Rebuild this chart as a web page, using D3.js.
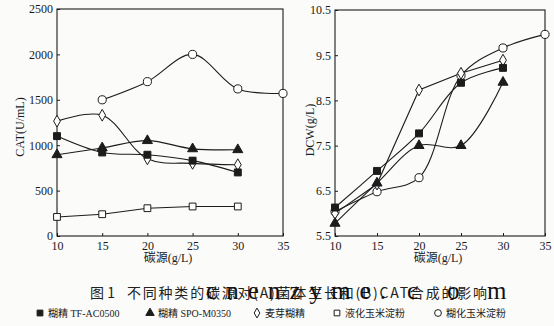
<!DOCTYPE html>
<html>
<head>
<meta charset="utf-8">
<script src="https://cdn.jsdelivr.net/npm/d3@7"></script>
<style>
  html, body { margin: 0; padding: 0; background: #fbfbfa; }
  svg { display: block; }
  .tick text { font-family: "Liberation Serif", "Times New Roman", serif; font-size: 12px; fill: #1a1a1a; }
</style>
</head>
<body>
<svg id="chart" width="554" height="326"></svg>
<script>
// Carbon source concentration (g/L)
const carbonLevels = [10, 15, 20, 25, 30, 35];

// (B) CAT activity, U/mL
const catTF   = [1100, 920, 895, 830, 700];
const catSPO  = [895, 970, 1050, 960, 950];
const catMalt = [1265, 1330, 850, 800, 785];
const catLiq  = [210, 240, 306, 325, 325];
const catGel  = [null, 1500, 1700, 2000, 1620, 1570];

// (A) Dry cell weight, g/L
const dcwTF   = [6.13, 6.94, 7.77, 8.89, 9.22];
const dcwSPO  = [5.78, 6.67, 7.50, 7.50, 8.90];
const dcwMalt = [6.00, 6.65, 8.73, 9.10, 9.39];
const dcwGel  = [6.04, 6.48, 6.79, 9.05, 9.66, 9.96];

const xTicks   = [10, 15, 20, 25, 30, 35];
const catTicks = [0, 500, 1000, 1500, 2000, 2500];
const dcwTicks = [5.5, 6.5, 7.5, 8.5, 9.5, 10.5];

const legendNames = ["糊精 TF-AC0500", "糊精 SPO-M0350", "麦芽糊精", "液化玉米淀粉", "糊化玉米淀粉"];

const ink = "#1c1c1c";
const svg = d3.select("#chart");

const markerDefs = {
  tf:   { type: d3.symbolSquare,   fill: ink,   size: 48 },
  spo:  { type: d3.symbolTriangle, fill: ink,   size: 44 },
  malt: { type: d3.symbolDiamond,  fill: "#fff", size: 40 },
  liq:  { type: d3.symbolSquare,   fill: "#fff", size: 46 },
  gel:  { type: d3.symbolCircle,   fill: "#fff", size: 52 }
};

function toPoints(values) {
  return values.map((v, i) => ({ x: carbonLevels[i], y: v })).filter(d => d.y != null);
}

function drawPanel(cfg) {
  const x = d3.scaleLinear().domain([10, 35]).range([cfg.left, cfg.right]);
  const y = d3.scaleLinear().domain(cfg.yDomain).range([cfg.bottom, cfg.top]);
  const g = svg.append("g");

  const xAxis = g.append("g")
    .attr("transform", `translate(0,${cfg.bottom})`)
    .call(d3.axisBottom(x).tickValues(xTicks).tickSize(-3).tickPadding(5).tickFormat(d3.format("d")));
  const yAxis = g.append("g")
    .attr("transform", `translate(${cfg.left},0)`)
    .call(d3.axisLeft(y).tickValues(cfg.yTicks).tickSize(-3).tickPadding(4).tickFormat(cfg.fmt));
  [xAxis, yAxis].forEach(a => {
    a.select(".domain").remove();
    a.selectAll(".tick line").attr("stroke", ink);
  });

  // plot frame
  g.append("rect")
    .attr("x", cfg.left).attr("y", cfg.top)
    .attr("width", cfg.right - cfg.left).attr("height", cfg.bottom - cfg.top)
    .attr("fill", "none").attr("stroke", ink).attr("stroke-width", 1.1);

  cfg.series.forEach(s => {
    const pts = toPoints(s.values);
    const line = d3.line().x(d => x(d.x)).y(d => y(d.y)).curve(s.curve || d3.curveCatmullRom.alpha(0.5));
    g.append("path").datum(pts)
      .attr("d", line).attr("fill", "none").attr("stroke", ink).attr("stroke-width", 1.1);
  });
  cfg.series.forEach(s => {
    const m = markerDefs[s.key];
    g.selectAll(null).data(toPoints(s.values)).enter().append("path")
      .attr("transform", d => `translate(${x(d.x)},${y(d.y)})`)
      .attr("d", d3.symbol().type(m.type).size(m.size))
      .attr("fill", m.fill).attr("stroke", ink).attr("stroke-width", 1);
  });

  // axis titles
  g.append("text")
    .attr("x", (cfg.left + cfg.right) / 2 - 2).attr("y", 262)
    .attr("text-anchor", "middle")
    .style("font-family", "'Liberation Serif', 'Noto Sans CJK SC', serif").style("font-size", "12px").attr("fill", ink)
    .text("碳源(g/L)");
  g.append("text")
    .attr("transform", `translate(${cfg.titleX},${cfg.titleY}) rotate(-90)`)
    .attr("text-anchor", "middle")
    .style("font-family", "'Liberation Serif', serif").style("font-size", "12px").attr("fill", ink)
    .text(cfg.yTitle);
}

drawPanel({
  left: 57, right: 283, top: 9, bottom: 236,
  yDomain: [0, 2500], yTicks: catTicks, fmt: d3.format("d"),
  yTitle: "CAT(U/mL)", titleX: 24, titleY: 127,
  series: [
    { key: "gel",  values: catGel },
    { key: "malt", values: catMalt },
    { key: "spo",  values: catSPO },
    { key: "tf",   values: catTF },
    { key: "liq",  values: catLiq, curve: d3.curveLinear }
  ]
});

drawPanel({
  left: 335, right: 545, top: 10, bottom: 236,
  yDomain: [5.5, 10.5], yTicks: dcwTicks, fmt: d3.format(".1f"),
  yTitle: "DCW(g/L)", titleX: 314, titleY: 130,
  series: [
    { key: "gel",  values: dcwGel },
    { key: "malt", values: dcwMalt, curve: d3.curveLinear },
    { key: "spo",  values: dcwSPO },
    { key: "tf",   values: dcwTF }
  ]
});

// Figure caption
const capStyle = sel => sel
  .style("font-family", "'Noto Sans CJK SC', sans-serif").style("font-size", "14px").attr("fill", "#222");
svg.append("text").attr("x", 90).attr("y", 298).call(capStyle).text("图 1");
svg.append("text").attr("x", 127).attr("y", 298).call(capStyle)
  .attr("textLength", 360).attr("lengthAdjust", "spacing")
  .text("不同种类的碳源对(A)菌体生长和(B)CAT合成的影响");

// site mark printed across the caption
svg.append("text")
  .attr("x", 206).attr("y", 299)
  .style("font-family", "'Liberation Serif', serif").style("font-size", "25px")
  .attr("textLength", 180).attr("lengthAdjust", "spacing").attr("fill", "#111")
  .text("cnenzyme.");
svg.append("text")
  .attr("x", "407 447 487").attr("y", 299)
  .style("font-family", "'Liberation Serif', serif").style("font-size", "25px")
  .attr("fill", "#111")
  .text("com");

// Legend
const legendKeys = ["tf", "spo", "malt", "liq", "gel"];
const legendX = [40, 150, 257, 337, 438];
legendKeys.forEach((k, i) => {
  const m = markerDefs[k];
  svg.append("path")
    .attr("transform", `translate(${legendX[i]},${313})`)
    .attr("d", d3.symbol().type(m.type).size(m.size * 0.7))
    .attr("fill", m.fill).attr("stroke", ink).attr("stroke-width", 1);
  svg.append("text")
    .attr("x", legendX[i] + 8).attr("y", 317)
    .style("font-family", "'Liberation Serif', 'Noto Sans CJK SC', serif").style("font-size", "10px")
    .attr("fill", "#222")
    .text(legendNames[i]);
});
</script>
</body>
</html>
